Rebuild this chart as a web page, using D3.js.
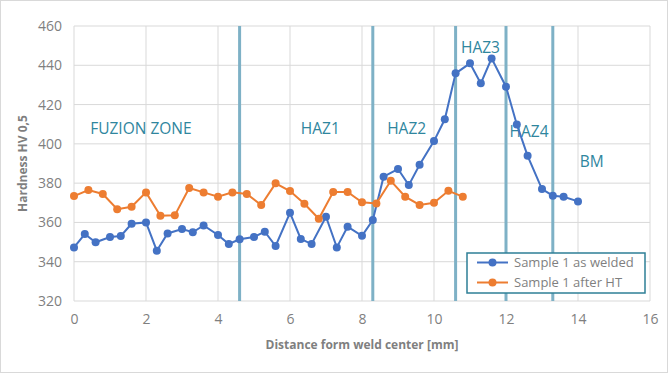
<!DOCTYPE html>
<html>
<head>
<meta charset="utf-8">
<script src="https://cdn.jsdelivr.net/npm/d3@7"></script>
<style>
  body { margin: 0; background: #fff; }
  svg text { font-family: "Open Sans", "Noto Sans", sans-serif; }
</style>
</head>
<body>
<div id="chart"></div>
<script>
// as welded
const weldedX = [0, 0.3, 0.6, 1, 1.3, 1.6, 2, 2.3, 2.6, 3, 3.3, 3.6, 4, 4.3, 4.6, 5, 5.3, 5.6, 6, 6.3, 6.6,
  7, 7.3, 7.6, 8, 8.3, 8.6, 9, 9.3, 9.6, 10, 10.3, 10.6, 11, 11.3, 11.6, 12, 12.3, 12.6, 13, 13.3, 13.6, 14];
const weldedY = [347.3, 354.1, 349.9, 352.6, 353.1, 359.3, 360, 345.6, 354.4, 356.6, 355, 358.5, 353.6, 349,
  351.4, 352.6, 355.3, 348, 364.9, 351.6, 349, 362.9, 347.3, 357.8, 353.2, 361.2, 383.3, 387.2, 379, 389.4,
  401.4, 412.5, 435.9, 441, 430.8, 443.5, 429.1, 409.9, 393.9, 377, 373.6, 373.1, 370.7];

// after HT
const htX = [0, 0.4, 0.8, 1.2, 1.6, 2, 2.4, 2.8, 3.2, 3.6, 4, 4.4, 4.8, 5.2, 5.6, 6, 6.4, 6.8, 7.2, 7.6,
  8, 8.4, 8.8, 9.2, 9.6, 10, 10.4, 10.8];
const htY = [373.4, 376.5, 374.5, 366.7, 368, 375.3, 363.4, 363.6, 377.5, 375.3, 373.1, 375.3, 374.5, 368.9,
  379.9, 376, 369.5, 361.9, 375.5, 375.5, 370.3, 369.7, 381.2, 373.1, 368.9, 370, 376.1, 373.1];

const xTicks = [0, 2, 4, 6, 8, 10, 12, 14, 16];
const yTicks = [320, 340, 360, 380, 400, 420, 440, 460];

const zoneLines = [4.6, 8.3, 10.6, 12.0, 13.3];
const zoneNames = ['FUZION ZONE', 'HAZ1', 'HAZ2', 'HAZ3', 'HAZ4', 'BM'];
const zoneLabelX = [0.45, 6.3, 8.7, 10.75, 12.1, 14.05];
const zoneLabelY = [408, 408, 408, 449, 406, 391];

const seriesNames = ['Sample 1 as welded', 'Sample 1 after HT'];
const colors = ['#4472C4', '#ED7D31'];

const W = 668, H = 373;
const margin = { top: 26, right: 18, bottom: 72, left: 74 };

const svg = d3.select('#chart').append('svg')
  .attr('width', W)
  .attr('height', H);

svg.append('rect')
  .attr('x', 0.5).attr('y', 0.5)
  .attr('width', W - 1).attr('height', H - 1)
  .attr('fill', '#fff')
  .attr('stroke', '#d9d9d9');

const x = d3.scaleLinear().domain([0, 16]).range([margin.left, W - margin.right]);
const y = d3.scaleLinear().domain([320, 460]).range([H - margin.bottom, margin.top]);

// grid
svg.append('g')
  .selectAll('line')
  .data(yTicks)
  .join('line')
  .attr('x1', x(0)).attr('x2', x(16))
  .attr('y1', d => y(d)).attr('y2', d => y(d))
  .attr('stroke', '#d9d9d9');

svg.append('g')
  .selectAll('line')
  .data(xTicks)
  .join('line')
  .attr('x1', d => x(d)).attr('x2', d => x(d))
  .attr('y1', y(320)).attr('y2', y(460))
  .attr('stroke', '#d9d9d9');

// axes (labels only)
const xAxis = svg.append('g')
  .attr('transform', `translate(0,${y(320)})`)
  .call(d3.axisBottom(x).tickValues(xTicks).tickSize(0).tickPadding(13));
const yAxis = svg.append('g')
  .attr('transform', `translate(${x(0)},0)`)
  .call(d3.axisLeft(y).tickValues(yTicks).tickSize(0).tickPadding(12));
[xAxis, yAxis].forEach(a => {
  a.select('.domain').remove();
  a.selectAll('text')
    .attr('fill', '#7f7f7f')
    .style('font-size', '14px')
    .style('font-family', '"Open Sans", sans-serif');
});

// zone lines
svg.append('g')
  .selectAll('line')
  .data(zoneLines)
  .join('line')
  .attr('x1', d => x(d)).attr('x2', d => x(d))
  .attr('y1', y(320)).attr('y2', y(460))
  .attr('stroke', '#7eb1c6')
  .attr('stroke-width', 3);

svg.append('g')
  .selectAll('text')
  .data(zoneNames)
  .join('text')
  .attr('x', (d, i) => x(zoneLabelX[i]))
  .attr('y', (d, i) => y(zoneLabelY[i]))
  .attr('dy', '0.35em')
  .attr('fill', '#2f869e')
  .style('font-size', '15.5px')
  .text(d => d);

// series
const series = [
  { x: weldedX, y: weldedY },
  { x: htX, y: htY },
];

const line = d3.line()
  .x(d => x(d[0]))
  .y(d => y(d[1]));

series.forEach((s, k) => {
  const pts = s.x.map((v, i) => [v, s.y[i]]);
  svg.append('path')
    .datum(pts)
    .attr('fill', 'none')
    .attr('stroke', colors[k])
    .attr('stroke-width', 2)
    .attr('d', line);
  svg.append('g')
    .selectAll('circle')
    .data(pts)
    .join('circle')
    .attr('cx', d => x(d[0]))
    .attr('cy', d => y(d[1]))
    .attr('r', 4)
    .attr('fill', colors[k]);
});

// axis titles
svg.append('text')
  .attr('x', (x(0) + x(16)) / 2)
  .attr('y', 349)
  .attr('text-anchor', 'middle')
  .attr('fill', '#7f7f7f')
  .style('font-size', '12px')
  .style('font-weight', 'bold')
  .text('Distance form weld center [mm]');

svg.append('text')
  .attr('transform', `translate(27,${(y(320) + y(460)) / 2}) rotate(-90)`)
  .attr('text-anchor', 'middle')
  .attr('fill', '#7f7f7f')
  .style('font-size', '12px')
  .style('font-weight', 'bold')
  .text('Hardness HV 0,5');

// legend
const lg = svg.append('g').attr('transform', 'translate(467,253)');
lg.append('rect')
  .attr('width', 178).attr('height', 40)
  .attr('fill', '#fff')
  .attr('stroke', '#2e7f96')
  .attr('stroke-width', 1.5);
seriesNames.forEach((name, i) => {
  const row = lg.append('g').attr('transform', `translate(0,${9.5 + i * 20})`);
  row.append('line')
    .attr('x1', 10).attr('x2', 41)
    .attr('stroke', colors[i]).attr('stroke-width', 2);
  row.append('circle')
    .attr('cx', 25.5).attr('r', 4).attr('fill', colors[i]);
  row.append('text')
    .attr('x', 47).attr('dy', '0.35em')
    .attr('fill', '#7f7f7f')
    .style('font-size', '13px')
    .text(name);
});
</script>
</body>
</html>
